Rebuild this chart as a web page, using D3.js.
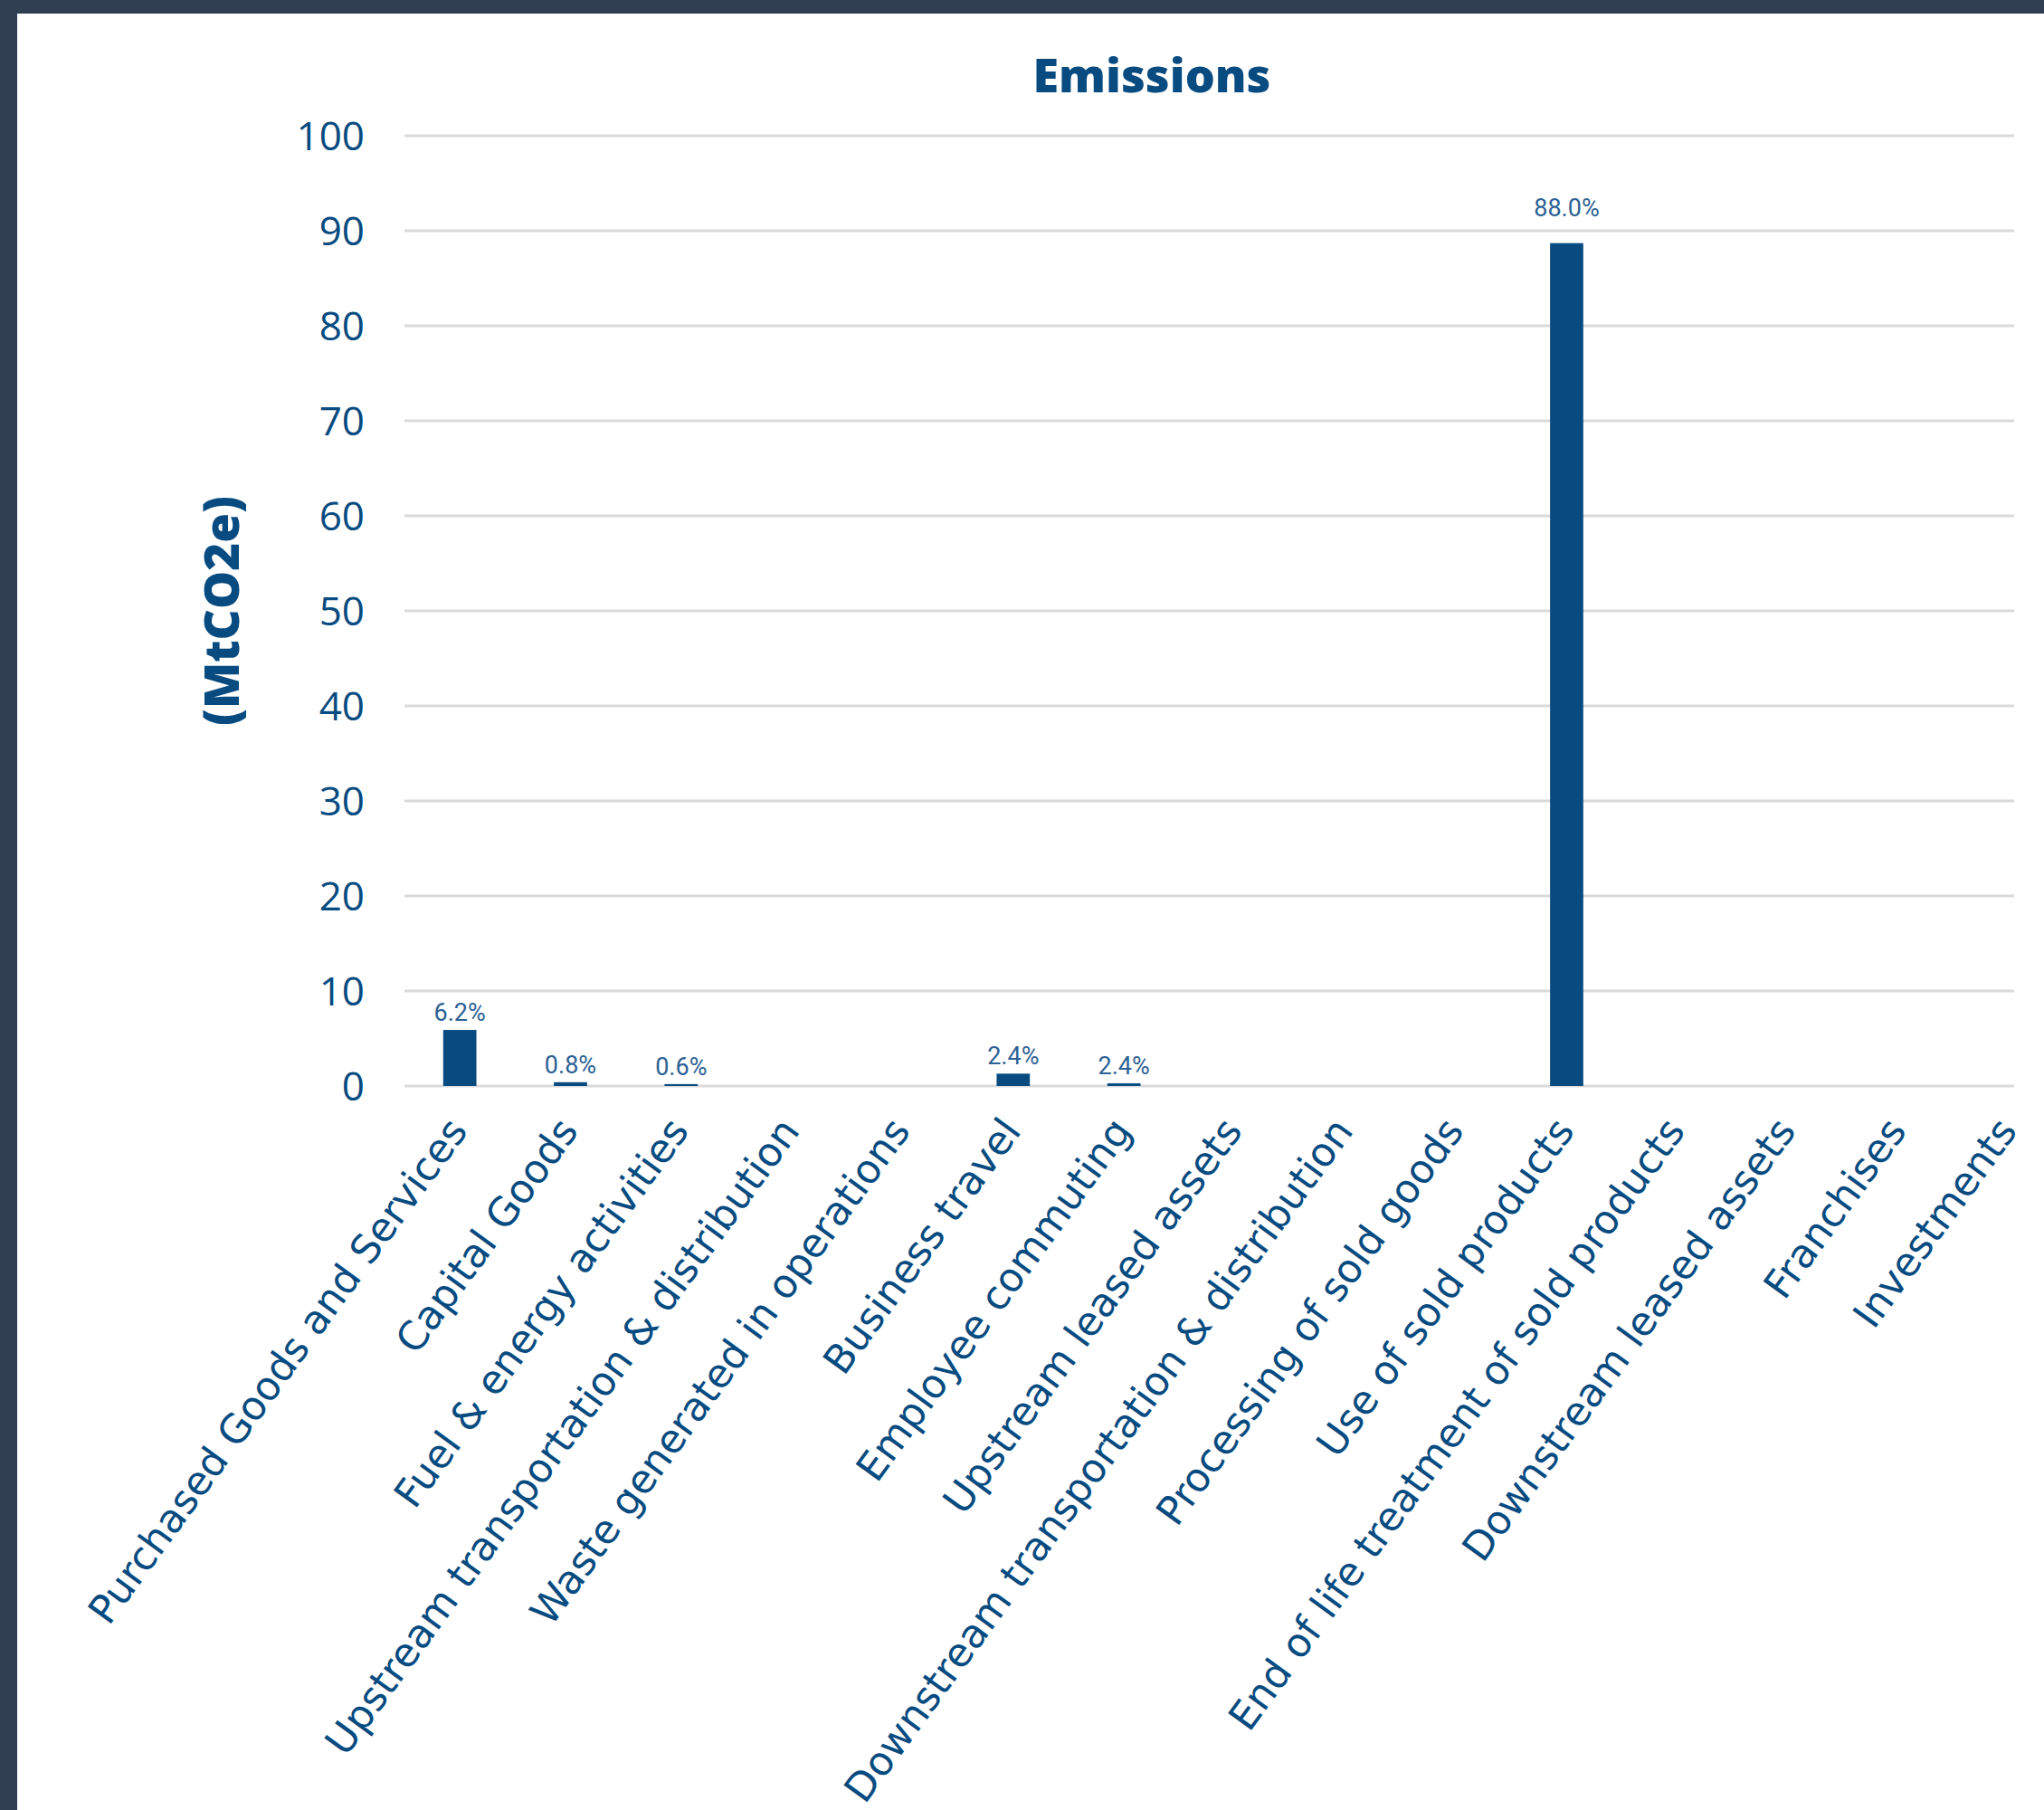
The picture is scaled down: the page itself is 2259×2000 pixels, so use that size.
<!DOCTYPE html>
<html>
<head>
<meta charset="utf-8">
<script src="https://cdn.jsdelivr.net/npm/d3@7"></script>
<style>
  body { margin: 0; background: #2f3e51; }
  svg { display: block; }
</style>
</head>
<body>
<div id="container"></div>
<script>
// chart data
const categories = [
    'Purchased Goods and Services',
    'Capital Goods',
    'Fuel & energy activities',
    'Upstream transportation & distribution',
    'Waste generated in operations',
    'Business travel',
    'Employee commuting',
    'Upstream leased assets',
    'Downstream transportation & distribution',
    'Processing of sold goods',
    'Use of sold products',
    'End of life treatment of sold products',
    'Downstream leased assets',
    'Franchises',
    'Investments'
];
const emissions = [5.9, 0.4, 0.2, 0, 0, 1.3, 0.28, 0, 0, 0, 88.7, 0, 0, 0, 0];
const shareLabels = ['6.2%', '0.8%', '0.6%', '', '', '2.4%', '2.4%', '', '', '', '88.0%', '', '', '', ''];
const yTicks = [0, 10, 20, 30, 40, 50, 60, 70, 80, 90, 100];

// dimensions
const width = 2259;
const height = 2000;
const plotLeft = 447;
const plotRight = 2226;
const plotTop = 150;
const plotBottom = 1200;

const blue = '#074b80';
const font = '"Open Sans", "Noto Sans", sans-serif';

const svg = d3.select('#container')
              .append('svg')
              .attr('width', width)
              .attr('height', height);

// dark frame + white card
svg.append('rect').attr('width', width).attr('height', height).attr('fill', '#2f3e51');
svg.append('rect').attr('x', 19).attr('y', 15).attr('width', width - 19).attr('height', height - 15).attr('fill', '#ffffff');

// scales
const xScale = d3.scaleBand()
                 .domain(categories)
                 .range([plotLeft, plotLeft + 15 * 122.33])
                 .paddingInner(0.7)
                 .paddingOuter(0.35);

const yScale = d3.scaleLinear()
                 .domain([0, 100])
                 .range([plotBottom, plotTop]);

// gridlines
svg.append('g')
   .selectAll('line')
   .data(yTicks)
   .enter()
   .append('line')
   .attr('x1', plotLeft)
   .attr('x2', plotRight)
   .attr('y1', d => yScale(d))
   .attr('y2', d => yScale(d))
   .attr('stroke', '#dadada')
   .attr('stroke-width', 3);

// y axis labels
const yAxis = d3.axisLeft(yScale).tickValues(yTicks).tickSize(0).tickPadding(0);
const yG = svg.append('g')
              .attr('transform', 'translate(403,0)')
              .call(yAxis);
yG.select('.domain').remove();
yG.selectAll('text')
  .attr('font-family', font)
  .attr('font-size', 44)
  .attr('fill', blue)
  .attr('dy', '0.35em');

// y axis title
svg.append('text')
   .attr('transform', 'translate(264,675) rotate(-90)')
   .attr('text-anchor', 'middle')
   .attr('font-family', font)
   .attr('font-weight', 800)
   .attr('font-size', 53)
   .attr('fill', blue)
   .text('(MtCO2e)');

// title
svg.append('text')
   .attr('x', 1273)
   .attr('y', 102)
   .attr('text-anchor', 'middle')
   .attr('font-family', font)
   .attr('font-weight', 800)
   .attr('font-size', 52)
   .attr('fill', blue)
   .text('Emissions');

// bars
svg.selectAll('rect.bar')
   .data(categories)
   .enter()
   .append('rect')
   .attr('class', 'bar')
   .attr('x', d => xScale(d))
   .attr('width', xScale.bandwidth())
   .attr('y', (d, i) => yScale(emissions[i]))
   .attr('height', (d, i) => yScale(0) - yScale(emissions[i]))
   .attr('fill', blue);

// value labels, pushed above a gridline they would cross
svg.selectAll('text.share')
   .data(categories)
   .enter()
   .append('text')
   .attr('class', 'share')
   .attr('x', d => xScale(d) + xScale.bandwidth() / 2)
   .attr('y', (d, i) => {
       let y = yScale(emissions[i]) - 10;
       const next = Math.ceil(emissions[i] / 10) * 10;
       if (y - 20 < yScale(next) && y > yScale(next)) y = yScale(next) - 16;
       return y;
   })
   .attr('text-anchor', 'middle')
   .attr('font-family', '"Liberation Sans Narrow", "Roboto", sans-serif')
   .attr('font-size', 27)
   .attr('fill', '#2c6194')
   .text((d, i) => shareLabels[i]);

// x axis labels
svg.selectAll('text.cat')
   .data(categories)
   .enter()
   .append('text')
   .attr('class', 'cat')
   .attr('transform', d => `translate(${xScale(d) + xScale.bandwidth() / 2 + 10},1250) rotate(-54)`)
   .attr('text-anchor', 'end')
   .attr('font-family', '"DejaVu Sans", sans-serif')
   .attr('font-size', 44)
   .attr('fill', blue)
   .text(d => d);
</script>
</body>
</html>
